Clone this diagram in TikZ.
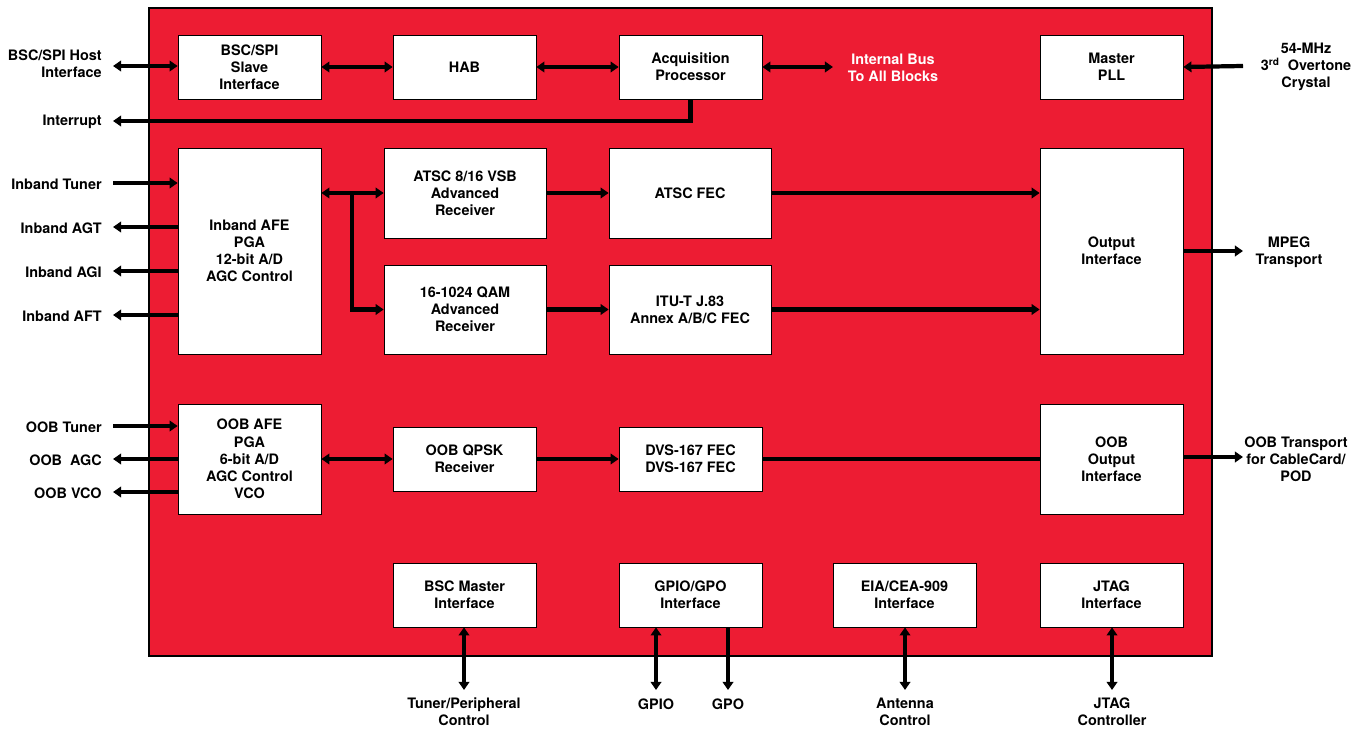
\documentclass[tikz,border=0pt]{standalone}
\usepackage{fontspec}
\setmainfont{TeX Gyre Heros}
\usepackage{xcolor}
\usepackage{tikz}
\usetikzlibrary{arrows.meta}
\usetikzlibrary{calc}
\definecolor{chipred}{RGB}{237,28,51}

\begin{document}
\begin{tikzpicture}[x=0.02cm, y=-0.02cm]
    \tikzstyle{edge}  = [line width=2.4pt, draw=black]
    \tikzstyle{dedge} = [edge, -{Triangle[length=4.6pt,width=6pt]}]
    \tikzstyle{bedge} = [edge, {Triangle[length=4.6pt,width=6pt]}-{Triangle[length=4.6pt,width=6pt]}]
    \tikzstyle{txt}=[
      font=\fontsize{8.2}{9.8}\selectfont\bfseries,
      align=center,
      inner sep=0pt,
    ]
    \tikzstyle{block}=[
      txt,
      rectangle,
      draw=black,
      thin,
      fill=white,
      minimum width=2.86cm,
      minimum height=1.28cm,
    ]
    \tikzstyle{wblock}=[
      block,
      minimum width=3.24cm,
    ]
    \tikzstyle{lbl}=[
      txt,
      anchor=east,
      align=right,
    ]

    \useasboundingbox (0,0) rectangle (1364,729);

    % chip outline
    \draw[fill=chipred, draw=black, line width=1.2pt] (149,8) rectangle (1212,656);

    % top row
    {
      \node[block] (slave) at (249.5,67) {BSC/SPI\\Slave\\Interface};
      \node[block] (hab) at (464.5,67) {HAB};
      \node[block] (acq) at (690.5,67) {Acquisition\\Processor};
      \node[block] (pll) at (1111.5,67) {Master\\PLL};

      \node[txt, text=white] (busLbl) at (893,68) {Internal Bus\\To All Blocks};
      \node[lbl] (hostLbl) at (102,64) {BSC/SPI Host\\Interface};
      \node[lbl] (irqLbl) at (102,122) {Interrupt};
      \node[txt] (xtalLbl) at (1306,67) {54-MHz\\3\textsuperscript{rd}\ \ Overtone\\Crystal};

      \coordinate (pHost) at (113,66);
      \coordinate (pIrq) at (113,121);
      \coordinate (pBus) at (833,67);
      \coordinate (pXtal) at (1243,66);

      \draw[bedge] (pHost) -- (pHost -| slave.west);
      \draw[bedge] (slave) -- (hab);
      \draw[bedge] (hab) -- (acq);
      \draw[bedge] (acq.east) -- (pBus);
      \draw[dedge] (acq.south) |- (pIrq);
      \draw[dedge] (pXtal) -- (pll.east);
    }

    % inband path
    {
      \node[block, minimum height=4.12cm] (afeIn) at (249.5,251) {Inband AFE\\PGA\\12-bit A/D\\AGC Control};
      \node[wblock, minimum height=1.8cm] (vsb) at (465,193) {ATSC 8/16 VSB\\Advanced\\Receiver};
      \node[wblock, minimum height=1.8cm] (atscFec) at (690,193) {ATSC FEC};
      \node[wblock, minimum height=1.78cm] (qam) at (465,309.5) {16-1024 QAM\\Advanced\\Receiver};
      \node[wblock, minimum height=1.78cm] (ituFec) at (690,309.5) {ITU-T J.83\\Annex A/B/C FEC};
      \node[block, minimum height=4.12cm] (out) at (1111.5,251) {Output\\Interface};

      \node[lbl] (tunerInLbl) at (102,184) {Inband Tuner};
      \node[lbl] (agtLbl) at (102,228) {Inband AGT};
      \node[lbl] (agiLbl) at (102,272) {Inband AGI};
      \node[lbl] (aftLbl) at (102,316) {Inband AFT};
      \node[txt] (mpegLbl) at (1289,252) {MPEG\\Transport};

      \coordinate (pTunerIn) at (113,183);
      \coordinate (pAgt) at (113,227);
      \coordinate (pAgi) at (113,271);
      \coordinate (pAft) at (113,315);
      \coordinate (pMpeg) at (1243,251);
      \coordinate (split) at (352,193);

      \draw[dedge] (pTunerIn) -- (pTunerIn -| afeIn.west);
      \draw[dedge] (pAgt -| afeIn.west) -- (pAgt);
      \draw[dedge] (pAgi -| afeIn.west) -- (pAgi);
      \draw[dedge] (pAft -| afeIn.west) -- (pAft);

      \draw[bedge] (afeIn.east |- vsb.west) -- (vsb.west);
      \draw[dedge] (split) |- (qam.west);
      \draw[dedge] (vsb) -- (atscFec);
      \draw[dedge] (qam) -- (ituFec);
      \draw[dedge] (atscFec.east) -- (atscFec.east -| out.west);
      \draw[dedge] (ituFec.east) -- (ituFec.east -| out.west);
      \draw[dedge] (out.east) -- (pMpeg);
    }

    % out-of-band path
    {
      \node[block, minimum height=2.2cm] (afeOob) at (249.5,459) {OOB AFE\\PGA\\6-bit A/D\\AGC Control\\VCO};
      \node[block] (qpsk) at (464.5,459) {OOB QPSK\\Receiver};
      \node[block] (dvs) at (690.5,459) {DVS-167 FEC\\DVS-167 FEC};
      \node[block, minimum height=2.2cm] (oobOut) at (1111.5,459) {OOB\\Output\\Interface};

      \node[lbl] (tunerOobLbl) at (102,427) {OOB Tuner};
      \node[lbl] (agcLbl) at (102,460) {OOB\ \ AGC};
      \node[lbl] (vcoLbl) at (102,493) {OOB VCO};
      \node[txt] (podLbl) at (1296,459) {OOB Transport\\for CableCard/\\POD};

      \coordinate (pTunerOob) at (113,426);
      \coordinate (pAgc) at (113,459);
      \coordinate (pVco) at (113,492);
      \coordinate (pPod) at (1243,457);

      \draw[dedge] (pTunerOob) -- (pTunerOob -| afeOob.west);
      \draw[dedge] (pAgc -| afeOob.west) -- (pAgc);
      \draw[dedge] (pVco -| afeOob.west) -- (pVco);

      \draw[bedge] (afeOob) -- (qpsk);
      \draw[dedge] (qpsk) -- (dvs);
      \draw[edge] (dvs) -- (oobOut);
      \draw[dedge] (pPod -| oobOut.east) -- (pPod);
    }

    % bottom interfaces
    {
      \node[block] (bscM) at (464.5,595) {BSC Master\\Interface};
      \node[block] (gpio) at (690.5,595) {GPIO/GPO\\Interface};
      \node[block] (eia) at (904.5,595) {EIA/CEA-909\\Interface};
      \node[block] (jtag) at (1111.5,595) {JTAG\\Interface};

      \node[txt] (tunerCtlLbl) at (464,712) {Tuner/Peripheral\\Control};
      \node[txt] (gpioLbl) at (656,704) {GPIO};
      \node[txt] (gpoLbl) at (728,704) {GPO};
      \node[txt] (antLbl) at (905,712) {Antenna\\Control};
      \node[txt] (jtagLbl) at (1112,712) {JTAG\\Controller};

      \coordinate (pTunerCtl) at (464,690);
      \coordinate (pGpio) at (656,690);
      \coordinate (pGpo) at (728,690);
      \coordinate (pAnt) at (905,690);
      \coordinate (pJtag) at (1112,690);

      \draw[bedge] (pTunerCtl |- bscM.south) -- (pTunerCtl);
      \draw[bedge] (pGpio |- gpio.south) -- (pGpio);
      \draw[dedge] (pGpo |- gpio.south) -- (pGpo);
      \draw[bedge] (pAnt |- eia.south) -- (pAnt);
      \draw[bedge] (pJtag |- jtag.south) -- (pJtag);
    }
\end{tikzpicture}
\end{document}
